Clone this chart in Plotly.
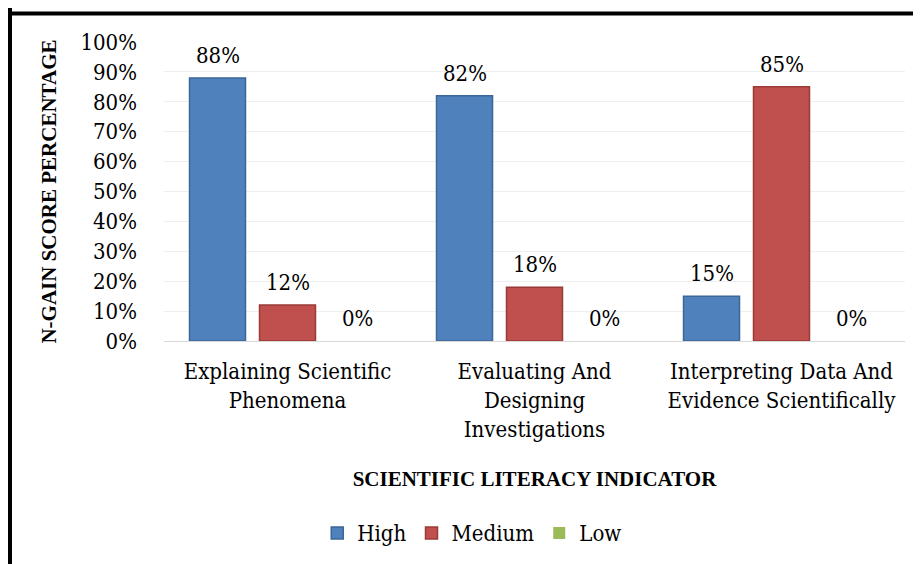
import plotly.graph_objects as go

categories = ["Explaining Scientific<br>Phenomena",
              "Evaluating And<br>Designing<br>Investigations",
              "Interpreting Data And<br>Evidence Scientifically"]
series_names = ["High", "Medium", "Low"]
high = [88, 82, 15]
medium = [12, 18, 85]
low = [0, 0, 0]
tick_vals = [0, 10, 20, 30, 40, 50, 60, 70, 80, 90, 100]
tick_text = [f"{v}%" for v in tick_vals]

colors = ["#4F81BD", "#C0504D", "#9BBB59"]
edges = ["#3B6796", "#9A3A37", "#7A9641"]
FONT = "DejaVu Serif Condensed, DejaVu Serif"
BFONT = "Liberation Serif"
FS = 22
BARGAP = 0.15

fig = go.Figure()
all_vals = [high, medium, low]
for name, vals, c, e in zip(series_names, all_vals, colors, edges):
    fig.add_trace(go.Bar(
        name=name, x=categories, y=vals,
        marker=dict(color=c, line=dict(color=e, width=1.5 if max(vals) > 0 else 0)),
    ))

# data labels via annotations (positioned through axis coordinates)
n = len(series_names)
slot = (1 - BARGAP) / n
for j, vals in enumerate(all_vals):
    for i, v in enumerate(vals):
        fig.add_annotation(
            x=i + (j - (n - 1) / 2) * slot, y=v, xref="x", yref="y",
            text=f"{v}%", showarrow=False, yanchor="bottom", yshift=8,
            font=dict(family=FONT, size=FS, color="#000000"),
        )

# chart frame (left and top black border)
fig.add_shape(type="line", xref="paper", yref="paper", xsizemode="pixel", xanchor=0,
              x0=-154, x1=-154, y0=-0.8, y1=1.12, line=dict(color="black", width=4))
fig.add_shape(type="line", xref="paper", yref="paper", ysizemode="pixel", yanchor=1,
              x0=-0.22, x1=1.05, y0=28.5, y1=28.5, line=dict(color="black", width=4))

fig.update_layout(
    width=913, height=556,
    margin=dict(l=156, r=16, t=34, b=222),
    paper_bgcolor="white", plot_bgcolor="white",
    barmode="group", bargap=BARGAP, bargroupgap=0.2,
    font=dict(family=FONT, size=FS, color="#000000"),
    showlegend=True,
    legend=dict(orientation="h", x=0.416, y=-0.637, xanchor="center", yanchor="middle",
                font=dict(family=FONT, size=FS), itemwidth=30, tracegroupgap=0,
                bgcolor="rgba(0,0,0,0)"),
    xaxis=dict(
        showgrid=False, showline=True, linecolor="#D9D9D9", linewidth=1,
        ticks="", tickfont=dict(family=FONT, size=FS), ticklabelstandoff=11,
        title=dict(text="<b>SCIENTIFIC LITERACY INDICATOR</b>",
                   font=dict(family=BFONT, size=21), standoff=30),
        automargin=False, fixedrange=True,
    ),
    yaxis=dict(
        range=[0, 100], tickvals=tick_vals, ticktext=tick_text,
        showgrid=True, gridcolor="#EFEFEF", gridwidth=1,
        zeroline=False, showline=False, ticks="",
        tickfont=dict(family=FONT, size=FS), ticklabelstandoff=26,
        title=dict(text="<b>N-GAIN SCORE PERCENTAGE</b>",
                   font=dict(family=BFONT, size=21), standoff=18),
        automargin=False, fixedrange=True,
    ),
)

fig.write_html("out.html")
